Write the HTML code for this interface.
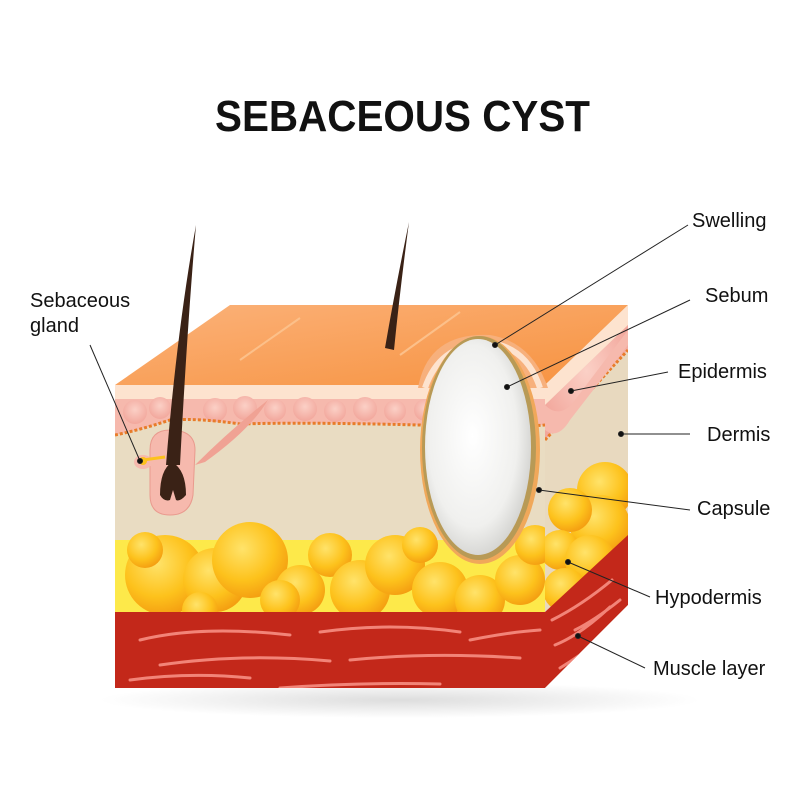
<!DOCTYPE html>
<html><head><meta charset="utf-8"><style>
html,body{margin:0;padding:0;background:#fff;}
svg{display:block;}
text{font-family:"Liberation Sans",sans-serif;}
</style></head><body>
<svg width="800" height="800" viewBox="0 0 800 800" xmlns="http://www.w3.org/2000/svg">
<defs>
<radialGradient id="fat" cx="0.4" cy="0.35" r="0.7">
<stop offset="0" stop-color="#ffe36a"/><stop offset="0.6" stop-color="#fdc21c"/><stop offset="1" stop-color="#f39a10"/>
</radialGradient>
<linearGradient id="topf" x1="0" y1="0" x2="1" y2="1">
<stop offset="0" stop-color="#fbb27a"/><stop offset="1" stop-color="#f7923f"/>
</linearGradient>
<radialGradient id="egg" cx="0.45" cy="0.45" r="0.6">
<stop offset="0" stop-color="#ffffff"/><stop offset="0.7" stop-color="#f0f0ee"/><stop offset="1" stop-color="#cfcfcc"/>
</radialGradient>
<radialGradient id="pk" cx="0.5" cy="0.4" r="0.6">
<stop offset="0" stop-color="#fbd0c6"/><stop offset="1" stop-color="#f2a79c"/>
</radialGradient>
<radialGradient id="shadow" cx="0.5" cy="0.5" r="0.5">
<stop offset="0" stop-color="#ddd"/><stop offset="1" stop-color="#fff"/>
</radialGradient>
<clipPath id="front"><rect x="115" y="385" width="430" height="303"/></clipPath>
<clipPath id="side"><polygon points="545,385 628,305 628,605 545,688"/></clipPath>
</defs>

<text x="215" y="131" font-size="44" font-weight="bold" fill="#111" textLength="375" lengthAdjust="spacingAndGlyphs">SEBACEOUS CYST</text>

<ellipse cx="400" cy="700" rx="300" ry="18" fill="url(#shadow)"/>

<!-- top face -->
<polygon points="115,385 230,305 628,305 545,385" fill="url(#topf)"/>
<line x1="240" y1="360" x2="300" y2="318" stroke="#fcc08a" stroke-width="2"/>
<line x1="400" y1="355" x2="460" y2="312" stroke="#fcc08a" stroke-width="2"/>

<!-- side face -->
<g clip-path="url(#side)">
<rect x="540" y="300" width="100" height="400" fill="#e8d9bf"/>
<polygon points="545,385 628,305 628,325 545,405" fill="#fde3cf"/>
<polygon points="545,405 628,325 628,350 545,440" fill="url(#pk)"/>
<path d="M545,440 L628,350" stroke="#e87c2a" stroke-width="3" stroke-dasharray="3,2"/>
<circle cx="605" cy="490" r="28" fill="url(#fat)"/>
<circle cx="600" cy="525" r="30" fill="url(#fat)"/>
<circle cx="570" cy="510" r="22" fill="url(#fat)"/>
<circle cx="560" cy="550" r="20" fill="url(#fat)"/>
<circle cx="590" cy="560" r="25" fill="url(#fat)"/>
<circle cx="565" cy="590" r="22" fill="url(#fat)"/>
<polygon points="545,612 628,535 628,605 545,688" fill="#c3281a"/>
<path d="M552,620 q30,-15 60,-40 M555,645 q25,-10 55,-38 M560,668 q30,-18 60,-45 M575,630 q20,-10 45,-30" stroke="#f28478" stroke-width="3" fill="none" stroke-linecap="round"/>
</g>

<!-- front face -->
<g clip-path="url(#front)">
<rect x="115" y="385" width="430" height="303" fill="#e9dcc2"/>
<rect x="115" y="385" width="430" height="14" fill="#fde3cf"/>
<path d="M115,399 H545 V425 Q480,430 420,425 Q300,422 240,424 Q200,418 170,420 Q140,430 115,435 Z" fill="#f6b9ad"/>
<g fill="url(#pk)">
<circle cx="135" cy="412" r="12"/><circle cx="160" cy="408" r="11"/><circle cx="215" cy="410" r="12"/>
<circle cx="245" cy="408" r="12"/><circle cx="275" cy="410" r="11"/><circle cx="305" cy="409" r="12"/>
<circle cx="335" cy="411" r="11"/><circle cx="365" cy="409" r="12"/><circle cx="395" cy="411" r="11"/>
<circle cx="425" cy="410" r="11"/>
</g>
<path d="M115,435 Q140,430 170,420 Q200,418 240,424 Q300,422 420,425 Q480,430 545,425" stroke="#e87c2a" stroke-width="3" fill="none" stroke-dasharray="3,2"/>
<rect x="115" y="540" width="430" height="75" fill="#fde94a"/>
<g fill="url(#fat)">
<circle cx="165" cy="575" r="40"/><circle cx="145" cy="550" r="18"/><circle cx="215" cy="580" r="32"/>
<circle cx="250" cy="560" r="38"/><circle cx="300" cy="590" r="25"/><circle cx="330" cy="555" r="22"/>
<circle cx="360" cy="590" r="30"/><circle cx="395" cy="565" r="30"/><circle cx="420" cy="545" r="18"/>
<circle cx="440" cy="590" r="28"/><circle cx="480" cy="600" r="25"/><circle cx="520" cy="580" r="25"/>
<circle cx="535" cy="545" r="20"/><circle cx="280" cy="600" r="20"/><circle cx="200" cy="610" r="18"/>
</g>
<rect x="115" y="612" width="430" height="76" fill="#c3281a"/>
<path d="M140,640 q60,-15 150,-5 M320,632 q70,-10 140,0 M160,665 q80,-12 170,-4 M350,660 q80,-8 170,-2 M130,680 q60,-8 120,-2 M280,688 q80,-6 160,-4 M470,640 q40,-8 70,-10" stroke="#f28478" stroke-width="3" fill="none" stroke-linecap="round"/>
</g>

<!-- swelling dome -->
<path d="M418,388 Q428,332 490,335 Q532,342 548,388 Z" fill="#f7b07c"/>
<path d="M425,388 Q440,343 490,343 Q527,348 540,388" fill="none" stroke="#fde3cf" stroke-width="6"/>
<path d="M545,405 Q560,420 575,400 L628,330 L628,345 L570,420 Q558,440 545,430 Z" fill="#f6b9ad"/>

<!-- cyst -->
<ellipse cx="480" cy="450" rx="60" ry="114" fill="#f0a85a"/>
<ellipse cx="479" cy="448" rx="57" ry="112" fill="#b89a56"/>
<ellipse cx="478" cy="447" rx="53" ry="108" fill="url(#egg)"/>

<!-- hair follicle -->
<path d="M150,450 Q150,430 170,430 Q195,430 195,450 L193,495 Q190,515 170,515 Q150,515 150,495 Z" fill="#f6b9ad" stroke="#e99a8e" stroke-width="1"/>
<path d="M160,495 Q160,470 172,462 Q186,470 186,495 Q180,502 176,500 L173,490 L170,500 Q164,502 160,495 Z" fill="#3a2216"/>
<path d="M196,225 Q187,330 180,465 L166,465 Q177,330 196,225 Z" fill="#3a2216"/>
<path d="M409,222 Q400,290 394,350 L385,348 Q395,290 409,222 Z" fill="#3a2216"/>
<!-- gland -->
<ellipse cx="143" cy="462" rx="9" ry="7" fill="#f6b9ad"/>
<path d="M143,460 L165,457" stroke="#fdc21c" stroke-width="3"/>
<circle cx="143" cy="461" r="4" fill="#fdc21c"/>
<!-- arrector muscle -->
<path d="M195,465 Q230,430 268,400 Q250,430 205,462 Z" fill="#f0a294"/>

<!-- leaders -->
<g stroke="#222" stroke-width="1" fill="#111">
<line x1="688" y1="225" x2="495" y2="345"/><circle cx="495" cy="345" r="2.5"/>
<line x1="690" y1="300" x2="507" y2="387"/><circle cx="507" cy="387" r="2.5"/>
<line x1="668" y1="372" x2="571" y2="391"/><circle cx="571" cy="391" r="2.5"/>
<line x1="690" y1="434" x2="621" y2="434"/><circle cx="621" cy="434" r="2.5"/>
<line x1="690" y1="510" x2="539" y2="490"/><circle cx="539" cy="490" r="2.5"/>
<line x1="650" y1="597" x2="568" y2="562"/><circle cx="568" cy="562" r="2.5"/>
<line x1="645" y1="668" x2="578" y2="636"/><circle cx="578" cy="636" r="2.5"/>
<line x1="90" y1="345" x2="140" y2="461"/><circle cx="140" cy="461" r="2.5"/>
</g>
<g font-size="20" fill="#111">
<text x="692" y="227">Swelling</text>
<text x="705" y="302">Sebum</text>
<text x="678" y="378">Epidermis</text>
<text x="707" y="441">Dermis</text>
<text x="697" y="515">Capsule</text>
<text x="655" y="604">Hypodermis</text>
<text x="653" y="675">Muscle layer</text>
<text x="30" y="307">Sebaceous</text>
<text x="30" y="332">gland</text>
</g>
</svg>
</body></html>
